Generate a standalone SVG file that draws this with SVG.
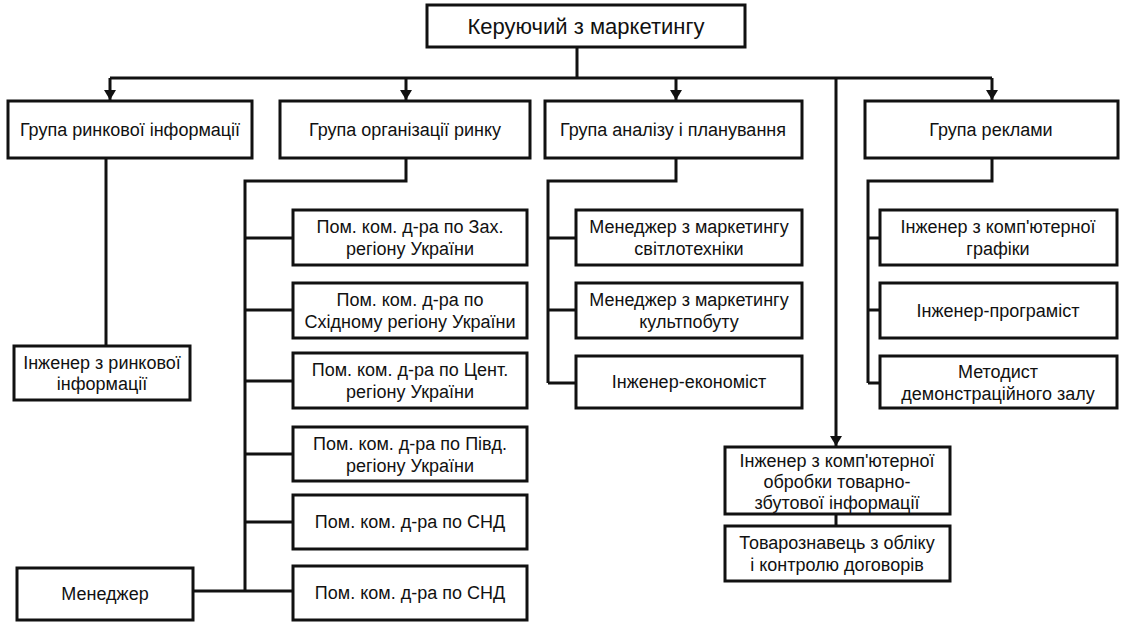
<svg xmlns="http://www.w3.org/2000/svg" width="1121" height="623" viewBox="0 0 1121 623">
<style>
.box{fill:#fff;stroke:#111;stroke-width:3}
.t{font-family:"Liberation Sans",Arial,sans-serif;font-size:18px;fill:#111;text-anchor:middle}
.big{font-size:22px}
.c{fill:none;stroke:#111;stroke-width:3}
</style>
<defs>
<marker id="ah" viewBox="0 0 10 12" refX="10" refY="6" markerWidth="10" markerHeight="12" markerUnits="userSpaceOnUse" orient="auto">
<path d="M0,0 L10,6 L0,12 z" fill="#111"/>
</marker>
</defs>
<rect width="1121" height="623" fill="#fff"/>
<g id="connectors">
<path class="c" d="M577,47 V78 M110,78 H992"/>
<path class="c" d="M110,78 V100" marker-end="url(#ah)"/>
<path class="c" d="M406,78 V100" marker-end="url(#ah)"/>
<path class="c" d="M676,78 V100" marker-end="url(#ah)"/>
<path class="c" d="M992,78 V100" marker-end="url(#ah)"/>
<path class="c" d="M836,78 V446" marker-end="url(#ah)"/>
<path class="c" d="M836,514 V526"/>
<path class="c" d="M106,158 V346"/>
<path class="c" d="M406,158 V181 H245 V591 M245,238 H293 M245,310 H293 M245,381 H293 M245,454 H293 M245,522 H293 M193,591 H293"/>
<path class="c" d="M676,158 V181 H548 V383 M548,238 H576 M548,310 H576 M548,383 H576"/>
<path class="c" d="M992,158 V181 H868 V383 M868,238 H880 M868,310 H880 M868,383 H880"/>
</g>
<g id="n0"><rect class="box" x="427" y="5" width="318" height="42"/><text class="t big" x="586" y="34">Керуючий з маркетингу</text></g>
<g id="n1"><rect class="box" x="8" y="101" width="244" height="57"/><text class="t" x="130" y="136">Група ринкової інформації</text></g>
<g id="n2"><rect class="box" x="280" y="101" width="250" height="57"/><text class="t" x="405" y="136">Група організації ринку</text></g>
<g id="n3"><rect class="box" x="545" y="101" width="257" height="57"/><text class="t" x="673" y="136">Група аналізу і планування</text></g>
<g id="n4"><rect class="box" x="865" y="101" width="253" height="57"/><text class="t" x="991" y="136">Група реклами</text></g>
<g id="n5"><rect class="box" x="14" y="346" width="176" height="54"/><text class="t" x="102" y="369">Інженер з ринкової</text><text class="t" x="102" y="390">інформації</text></g>
<g id="n6"><rect class="box" x="17" y="568" width="176" height="52"/><text class="t" x="105" y="600">Менеджер</text></g>
<g id="n7"><rect class="box" x="293" y="210" width="234" height="55"/><text class="t" x="410" y="233">Пом. ком. д-ра по Зах.</text><text class="t" x="410" y="255">регіону України</text></g>
<g id="n8"><rect class="box" x="293" y="283" width="234" height="55"/><text class="t" x="410" y="306">Пом. ком. д-ра по</text><text class="t" x="410" y="328">Східному регіону України</text></g>
<g id="n9"><rect class="box" x="293" y="353" width="234" height="55"/><text class="t" x="410" y="376">Пом. ком. д-ра по Цент.</text><text class="t" x="410" y="398">регіону України</text></g>
<g id="n10"><rect class="box" x="293" y="427" width="234" height="54"/><text class="t" x="410" y="450">Пом. ком. д-ра по Півд.</text><text class="t" x="410" y="472">регіону України</text></g>
<g id="n11"><rect class="box" x="293" y="495" width="234" height="54"/><text class="t" x="410" y="528">Пом. ком. д-ра по СНД</text></g>
<g id="n12"><rect class="box" x="293" y="566" width="234" height="54"/><text class="t" x="410" y="599">Пом. ком. д-ра по СНД</text></g>
<g id="n13"><rect class="box" x="576" y="210" width="226" height="55"/><text class="t" x="689" y="233">Менеджер з маркетингу</text><text class="t" x="689" y="255">світлотехніки</text></g>
<g id="n14"><rect class="box" x="576" y="283" width="226" height="55"/><text class="t" x="689" y="306">Менеджер з маркетингу</text><text class="t" x="689" y="328">культпобуту</text></g>
<g id="n15"><rect class="box" x="576" y="356" width="226" height="52"/><text class="t" x="689" y="388">Інженер-економіст</text></g>
<g id="n16"><rect class="box" x="880" y="210" width="237" height="55"/><text class="t" x="998" y="233">Інженер з комп'ютерної</text><text class="t" x="998" y="255">графіки</text></g>
<g id="n17"><rect class="box" x="880" y="283" width="237" height="55"/><text class="t" x="998" y="317">Інженер-програміст</text></g>
<g id="n18"><rect class="box" x="880" y="356" width="237" height="52"/><text class="t" x="998" y="378">Методист</text><text class="t" x="998" y="400">демонстраційного залу</text></g>
<g id="n19"><rect class="box" x="725" y="447" width="225" height="67"/><text class="t" x="837" y="467">Інженер з комп'ютерної</text><text class="t" x="837" y="488">обробки товарно-</text><text class="t" x="837" y="509">збутової інформації</text></g>
<g id="n20"><rect class="box" x="725" y="526" width="225" height="55"/><text class="t" x="837" y="549">Товарознавець з обліку</text><text class="t" x="837" y="571">і контролю договорів</text></g>
</svg>
